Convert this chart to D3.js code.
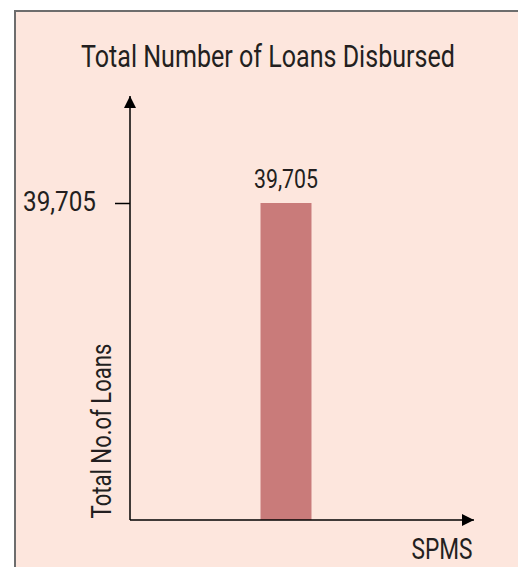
<!DOCTYPE html>
<html>
<head>
<meta charset="utf-8">
<script src="https://cdn.jsdelivr.net/npm/d3@7"></script>
<style>
  body { margin: 0; background: #fff; }
  svg text { font-family: Roboto, "DejaVu Sans Condensed", sans-serif; fill: #231f20; }
</style>
</head>
<body>
<svg id="chart" width="518" height="567"></svg>
<script>
// data
const categories = ["SPMS"];
const loans = [39705];
const tickValues = [39705];

const title = "Total Number of Loans Disbursed";
const yLabel = "Total No.of Loans";
const xLabel = "SPMS";

const width = 518, height = 567;
const svg = d3.select("#chart");

// narrow font look: place text at (x,y) and squeeze it to the reference width
function placeNarrow(sel, x, y, len, rot = 0) {
  sel.each(function () {
    const natural = this.getComputedTextLength();
    d3.select(this)
      .attr("x", null).attr("y", null)
      .attr("transform", `translate(${x},${y}) rotate(${rot}) scale(${len / natural},1)`);
  });
}

// panel
svg.append("rect")
  .attr("x", 15).attr("y", 11)
  .attr("width", width).attr("height", height)
  .attr("fill", "#fde6dd")
  .attr("stroke", "#6d6d6d")
  .attr("stroke-width", 2);

const origin = { x: 130, y: 520 };

const x = d3.scaleBand()
  .domain(categories)
  .range([origin.x, 442])
  .paddingOuter(2.56);

const y = d3.scaleLinear()
  .domain([0, d3.max(loans)])
  .range([origin.y, 203]);

// title
svg.append("text")
  .style("font-size", "31px")
  .text(title)
  .call(placeNarrow, 81, 67, 374);

// bars
svg.selectAll(".bar")
  .data(loans)
  .enter()
  .append("rect")
  .attr("class", "bar")
  .attr("x", (d, i) => x(categories[i]))
  .attr("width", x.bandwidth())
  .attr("y", d => y(d))
  .attr("height", d => y(0) - y(d))
  .attr("fill", "#c97b7a");

svg.selectAll(".bar-label")
  .data(loans)
  .enter()
  .append("text")
  .attr("class", "bar-label")
  .attr("text-anchor", "middle")
  .style("font-size", "25px")
  .text(d => d3.format(",")(d))
  .each(function (d, i) {
    d3.select(this).call(placeNarrow, x(categories[i]) + x.bandwidth() / 2, y(d) - 15, 64);
  });

// arrow marker
svg.append("defs").append("marker")
  .attr("id", "arrow")
  .attr("viewBox", "0 0 10 10")
  .attr("refX", 10).attr("refY", 5)
  .attr("markerUnits", "userSpaceOnUse")
  .attr("markerWidth", 13).attr("markerHeight", 12)
  .attr("orient", "auto")
  .append("path")
  .attr("d", "M0,0 L10,5 L0,10 Z")
  .attr("fill", "#000");

// axes lines
svg.append("line")
  .attr("x1", origin.x).attr("y1", origin.y)
  .attr("x2", origin.x).attr("y2", 96)
  .attr("stroke", "#000").attr("stroke-width", 1.5)
  .attr("marker-end", "url(#arrow)");

svg.append("line")
  .attr("x1", origin.x).attr("y1", origin.y)
  .attr("x2", 474).attr("y2", origin.y)
  .attr("stroke", "#000").attr("stroke-width", 1.5)
  .attr("marker-end", "url(#arrow)");

// y ticks
const yAxis = svg.append("g")
  .attr("transform", `translate(${origin.x},0)`)
  .call(d3.axisLeft(y).tickValues(tickValues).tickFormat(d3.format(",")).tickSize(15).tickPadding(19));
yAxis.select(".domain").remove();
yAxis.selectAll(".tick line").attr("stroke", "#000").attr("stroke-width", 1.5);
yAxis.selectAll(".tick text")
  .style("font-size", "27px")
  .attr("font-family", null)
  .attr("fill", null)
  .attr("dy", "0.28em")
  .call(placeNarrow, -34, 0, 73);

// axis labels
svg.append("text")
  .attr("text-anchor", "middle")
  .style("font-size", "28px")
  .text(yLabel)
  .call(placeNarrow, 111, 431, 175, -90);

svg.append("text")
  .attr("text-anchor", "middle")
  .style("font-size", "29px")
  .text(xLabel)
  .call(placeNarrow, 442, 559, 61);
</script>
</body>
</html>
